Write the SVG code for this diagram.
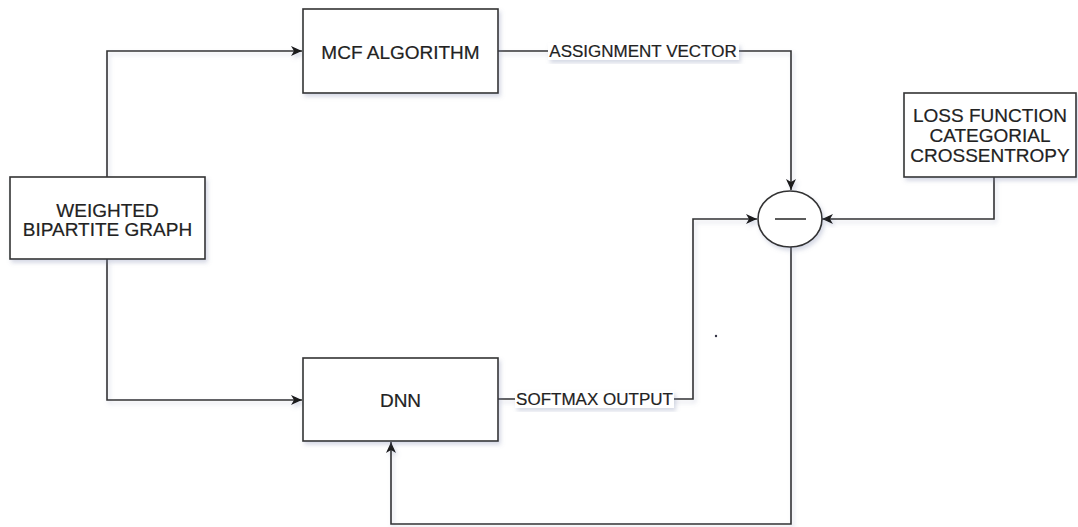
<svg xmlns="http://www.w3.org/2000/svg" width="1078" height="527" viewBox="0 0 1078 527">
  <style>
    .box { fill: #ffffff; stroke: #333333; stroke-width: 1.6; filter: url(#shadow); }
    .txt { font-family: "Liberation Sans", Arial, sans-serif; font-size: 19px; fill: #222222; text-anchor: middle; dominant-baseline: central; stroke: #222222; stroke-width: 0.2; }
    .lbl { font-family: "Liberation Sans", Arial, sans-serif; font-size: 17px; fill: #222222; text-anchor: middle; dominant-baseline: central; stroke: #222222; stroke-width: 0.2; }
    .wire { fill: none; stroke: #333333; stroke-width: 1.6; filter: url(#shadow); }
    .arrow { marker-end: url(#head); }
    .lblbg { fill: #ffffff; filter: url(#shadow); }
  </style>
  <defs>
    <filter id="shadow" x="-20%" y="-20%" width="140%" height="140%">
      <feDropShadow dx="2" dy="3" stdDeviation="2" flood-color="#7880a8" flood-opacity="0.3"/>
    </filter>
    <marker id="head" markerUnits="userSpaceOnUse" markerWidth="12" markerHeight="10" refX="11" refY="5" orient="auto">
      <path d="M0,0 L11,5 L0,10 L3,5 Z" fill="#1a1a1a"/>
    </marker>
  </defs>

  <rect width="1078" height="527" fill="#ffffff"/>

  <!-- connectors -->
  <g id="connectors">
    <path class="wire arrow" d="M107,177 V51 H302"/>
    <path class="wire arrow" d="M107,259 V400 H302"/>
    <path class="wire arrow" d="M498,51 H791 V190"/>
    <path class="wire arrow" d="M498,399 H693 V219 H757"/>
    <path class="wire arrow" d="M994,177 V219 H822"/>
    <path class="wire arrow" d="M791,247 V524 H391 V442"/>
    <g id="label-assignment">
      <rect class="lblbg" x="548" y="43" width="191" height="17"/>
      <text class="lbl" x="643" y="51.5">ASSIGNMENT VECTOR</text>
    </g>
    <g id="label-softmax">
      <rect class="lblbg" x="515" y="391" width="159" height="17"/>
      <text class="lbl" x="594.5" y="399.5">SOFTMAX OUTPUT</text>
    </g>
  </g>

  <g id="node-weighted-graph">
    <rect class="box" x="10" y="177" width="195" height="82"/>
    <text class="txt" x="107.5" y="210">WEIGHTED</text>
    <text class="txt" x="107.5" y="229">BIPARTITE GRAPH</text>
  </g>

  <g id="node-mcf">
    <rect class="box" x="303" y="9" width="195" height="84"/>
    <text class="txt" x="400.5" y="52">MCF ALGORITHM</text>
  </g>

  <g id="node-dnn">
    <rect class="box" x="303" y="358" width="195" height="83"/>
    <text class="txt" x="400.5" y="400">DNN</text>
  </g>

  <g id="node-loss">
    <rect class="box" x="904" y="93" width="172" height="84"/>
    <text class="txt" x="990" y="115">LOSS FUNCTION</text>
    <text class="txt" x="990" y="135">CATEGORIAL</text>
    <text class="txt" x="990" y="155">CROSSENTROPY</text>
  </g>

  <g id="node-subtract">
    <ellipse class="box" cx="790" cy="219" rx="32" ry="28"/>
    <line x1="775" y1="219" x2="806" y2="219" stroke="#333333" stroke-width="1.6"/>
  </g>

  <circle cx="716" cy="336" r="1.2" fill="#333344"/>
</svg>
